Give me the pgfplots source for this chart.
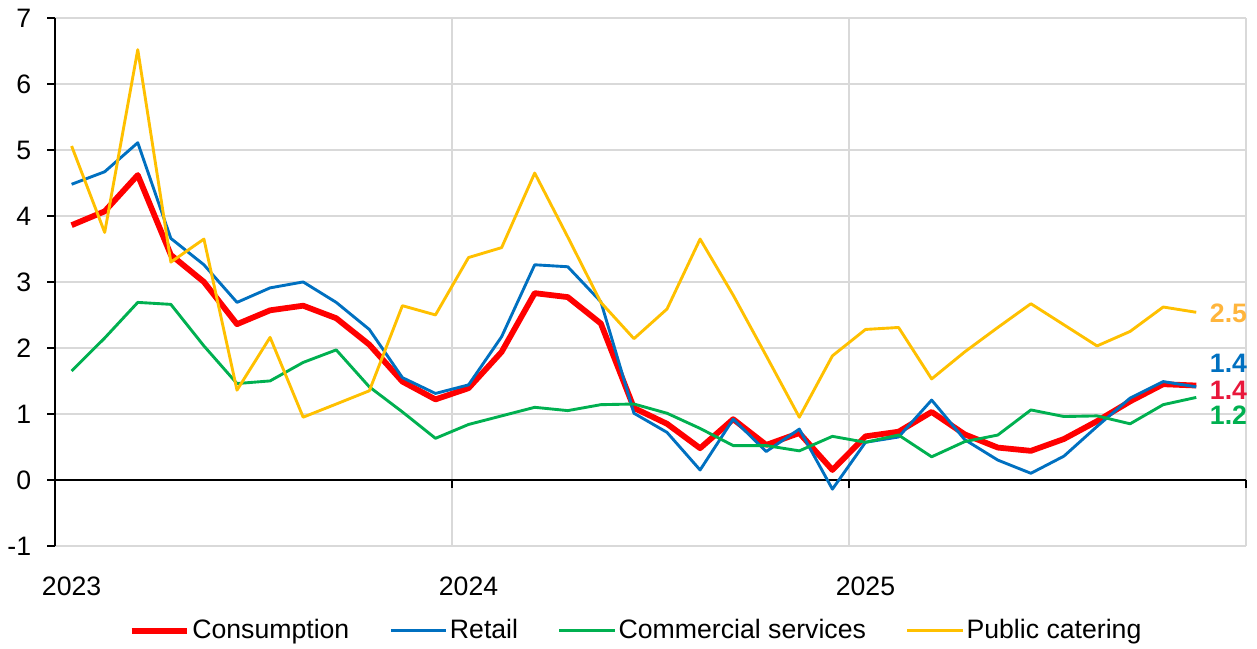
\documentclass[border=0pt,12pt]{standalone}
\usepackage{pgfplots}
\pgfplotsset{compat=1.18}
\usepackage{pgfplotstable}
\usepackage{fontspec}
\setmainfont{Liberation Sans}
\definecolor{cRed}{HTML}{FF0000}
\definecolor{cBlue}{HTML}{0070C0}
\definecolor{cGreen}{HTML}{00B050}
\definecolor{cYellow}{HTML}{FFC000}
\definecolor{cLabY}{HTML}{FFB53C}
\definecolor{cLabR}{HTML}{E8173B}
\definecolor{cGrid}{HTML}{D9D9D9}

\pgfplotstableread{
i cons retail comm cater
0 3.86 4.48 1.65 5.06
1 4.07 4.67 2.15 3.75
2 4.62 5.11 2.69 6.52
3 3.41 3.66 2.66 3.30
4 3.00 3.26 2.03 3.65
5 2.36 2.69 1.46 1.36
6 2.57 2.91 1.50 2.16
7 2.64 3.00 1.78 0.95
8 2.45 2.69 1.97 1.15
9 2.05 2.28 1.41 1.35
10 1.49 1.55 1.03 2.64
11 1.22 1.31 0.63 2.50
12 1.39 1.44 0.84 3.37
13 1.94 2.17 0.97 3.52
14 2.83 3.26 1.10 4.65
15 2.77 3.23 1.05 3.68
16 2.37 2.70 1.14 2.69
17 1.09 1.01 1.15 2.14
18 0.85 0.72 1.01 2.59
19 0.48 0.15 0.78 3.65
20 0.92 0.92 0.52 2.80
21 0.53 0.43 0.52 1.88
22 0.71 0.77 0.44 0.95
23 0.15 -0.14 0.66 1.88
24 0.66 0.57 0.57 2.28
25 0.73 0.65 0.68 2.31
26 1.03 1.21 0.35 1.53
27 0.69 0.61 0.58 1.94
28 0.49 0.30 0.68 2.31
29 0.44 0.10 1.06 2.67
30 0.62 0.36 0.96 2.35
31 0.89 0.81 0.97 2.03
32 1.19 1.24 0.85 2.25
33 1.45 1.49 1.14 2.62
34 1.43 1.41 1.25 2.54
}\data

\begin{document}
\begin{tikzpicture}
\useasboundingbox (0,0) rectangle (566pt,291.8pt);
\begin{axis}[
  at={(24.8pt,46pt)}, anchor=south west,
  width=536.2pt, height=237.7pt, scale only axis,
  xmin=-0.5, xmax=35.5, ymin=-1, ymax=7,
  clip=false,
  axis line style={draw=none},
  xtick={-0.5,11.5,23.5,35.5}, xticklabels={},
  xmajorgrids, ymajorgrids,
  grid style={cGrid, line width=0.6pt},
  x tick style={draw=none},
  extra x ticks={0,12,24},
  extra x tick labels={2023,2024,2025},
  extra x tick style={major grid style={draw=none}, tick style={draw=none}},
  xticklabel style={yshift=-6pt},
  ytick={-1,0,1,2,3,4,5,6,7},
  yticklabels={-1,0,1,2,3,4,5,6,7},
  ytick pos=left, tick align=outside,
  y tick style={black, line width=0.6pt},
  major tick length=3.6pt,
  yticklabel style={xshift=-3pt},
  legend columns=4,
  legend style={draw=none, fill=none, at={(0.488,-0.161)}, anchor=center,
    /tikz/every even column/.append style={column sep=17pt},
    nodes={inner sep=1pt}},
  legend image code/.code={\draw[#1] (0pt,0pt) -- (25pt,0pt);},
]
\draw[black, line width=0.6pt] (axis cs:-0.5,-1) -- (axis cs:-0.5,7);
\draw[black, line width=0.8pt] (axis cs:-0.5,0) -- (axis cs:35.5,0);
\draw[black, line width=0.6pt] (axis cs:11.5,0) -- ([yshift=-3.6pt]axis cs:11.5,0);
\draw[black, line width=0.6pt] (axis cs:23.5,0) -- ([yshift=-3.6pt]axis cs:23.5,0);
\draw[black, line width=0.6pt] (axis cs:35.5,0) -- ([yshift=-3.6pt]axis cs:35.5,0);
\addplot[cRed, line width=2.6pt, line join=round] table[x=i,y=cons] {\data};
\addlegendentry{Consumption}
\addplot[cBlue, line width=1.3pt, line join=round] table[x=i,y=retail] {\data};
\addlegendentry{Retail}
\addplot[cGreen, line width=1.3pt, line join=round] table[x=i,y=comm] {\data};
\addlegendentry{Commercial services}
\addplot[cYellow, line width=1.3pt, line join=round] table[x=i,y=cater] {\data};
\addlegendentry{Public catering}
\node[anchor=west, font=\bfseries, text=cLabY, inner sep=0pt] at (axis cs:34.4,2.53) {2.5};
\node[anchor=west, font=\bfseries, text=cBlue, inner sep=0pt] at (axis cs:34.4,1.77) {1.4};
\node[anchor=west, font=\bfseries, text=cLabR, inner sep=0pt] at (axis cs:34.4,1.36) {1.4};
\node[anchor=west, font=\bfseries, text=cGreen, inner sep=0pt] at (axis cs:34.4,0.98) {1.2};
\end{axis}
\end{tikzpicture}
\end{document}
